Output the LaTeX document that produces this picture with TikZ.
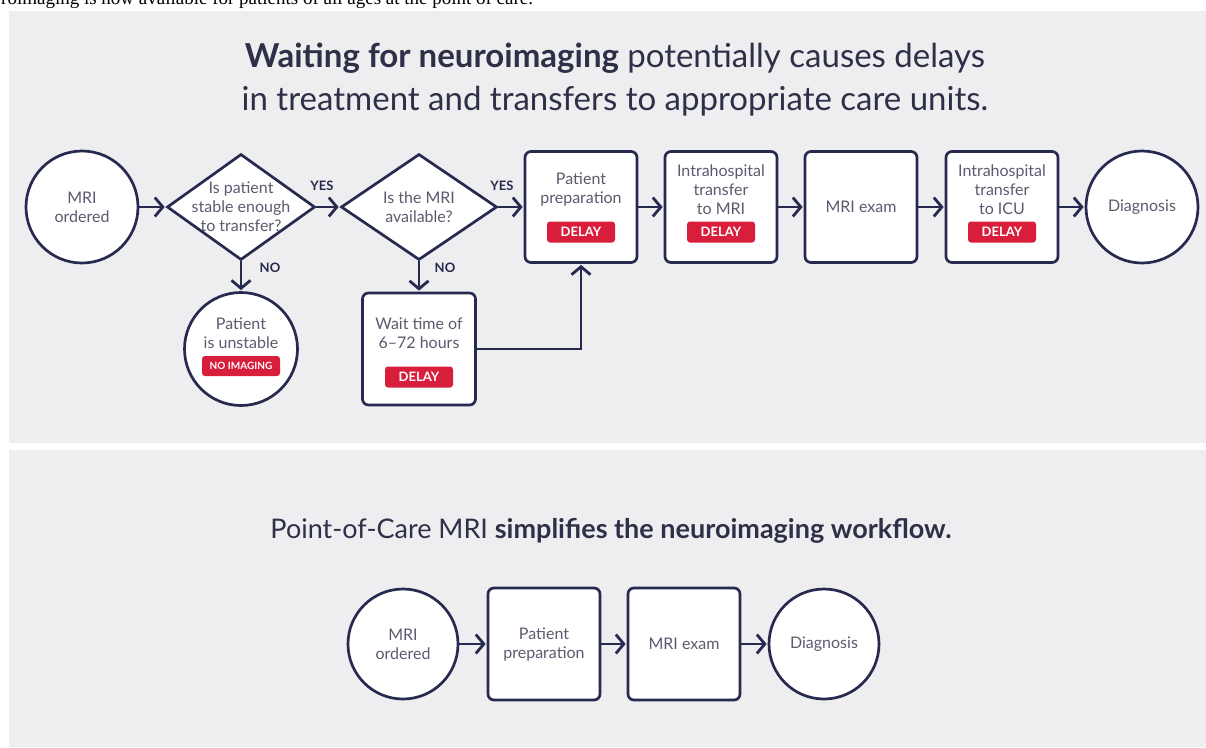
\documentclass[tikz,border=0pt]{standalone}
\usepackage{fontspec}
\setmainfont{Lato}
\newfontfamily\notefont{Liberation Serif}
\usetikzlibrary{shapes.geometric,arrows.meta}
\definecolor{panel}{HTML}{EEEEF1}
\definecolor{navy}{HTML}{262A4E}
\definecolor{bodygrey}{HTML}{5A5C6E}
\definecolor{headtext}{HTML}{2E3048}
\definecolor{alert}{HTML}{D91E3C}
\tikzset{
  flow/.style={draw=navy,line width=2.8pt,-{Straight Barb[length=8pt,width=19pt]},shorten >=1pt},
  stepbox/.style={draw=navy,fill=white,line width=2.7pt,rounded corners=6pt,minimum width=112pt,minimum height=111pt,inner sep=0pt},
  endpoint/.style={circle,draw=navy,fill=white,line width=2.7pt,minimum size=112pt,inner sep=0pt},
  question/.style={diamond,draw=navy,fill=white,line width=2.7pt,aspect=1.4,inner xsep=-30pt,inner ysep=-20pt,minimum height=106pt},
  body/.style={text=bodygrey,align=center,font=\fontsize{16}{19}\selectfont},
  badge/.style={fill=alert,text=white,rounded corners=3pt,font=\bfseries\fontsize{13}{13}\selectfont,minimum width=68pt,minimum height=21pt,inner sep=0pt},
  answer/.style={text=navy,font=\bfseries\fontsize{13}{13}\selectfont},
}
\begin{document}
\begin{tikzpicture}[x=1pt,y=-1pt]
  \useasboundingbox (0,0) rectangle (1206,747);
  \clip (0,0) rectangle (1206,747);
  \fill[white] (0,0) rectangle (1206,747);
  \node[anchor=base west,inner sep=0pt,font=\notefont\fontsize{19}{22}\selectfont] (carenote) at (1,4) {roimaging is now available for patients of all ages at the point of care.};
  \fill[panel] (9,11) rectangle (1206,443);
  \fill[panel] (9,450) rectangle (1206,747);

  % current pathway
  \node[text=headtext,align=center,font=\fontsize{33}{43}\selectfont] (waiting) at (615,80)
    {\textbf{Waiting for neuroimaging} potentially causes delays\\in treatment and transfers to appropriate care units.};
  \node[endpoint,body] (order) at (82,207) {MRI\\ordered};
  \node[question,body,minimum width=148pt] (stable) at (241,207) {Is patient\\stable enough\\to transfer?};
  \node[question,body,minimum width=156pt] (avail) at (419,207) {Is the MRI\\available?};
  \node[stepbox] (prep) at (581,207) {};
  \node[stepbox] (tomri) at (721,207) {};
  \node[stepbox,body] (exam) at (861,207) {MRI exam};
  \node[stepbox] (toicu) at (1002,207) {};
  \node[endpoint,body] (diag) at (1142,207) {Diagnosis};
  \node[body] (preptext) at (581,190) {Patient\\preparation};
  \node[body] (tomritext) at (721,190) {Intrahospital\\transfer\\to MRI};
  \node[body] (toicutext) at (1002,190) {Intrahospital\\transfer\\to ICU};
  \node[badge] (prepdelay) at (581,232) {DELAY};
  \node[badge] (tomridelay) at (721,232) {DELAY};
  \node[badge] (toicudelay) at (1002,232) {DELAY};
  \node[endpoint,minimum size=113pt] (unstable) at (241,349) {};
  \node[stepbox,minimum height=112pt,minimum width=113pt] (wait) at (419,349) {};
  \node[body] (unstabletext) at (241,333) {Patient\\is unstable};
  \node[badge,minimum width=78pt,minimum height=20pt,font=\bfseries\fontsize{10}{10}\selectfont] (noimaging) at (241,366) {NO IMAGING};
  \node[body] (waittext) at (419,333) {Wait time of\\6--72 hours};
  \node[badge] (waitdelay) at (419,377) {DELAY};
  \node[answer] (yesstable) at (322,186) {YES};
  \node[answer] (yesavail) at (502,186) {YES};
  \node[answer] (nostable) at (270,268) {NO};
  \node[answer] (noavail) at (445,268) {NO};
  \draw[flow] (order) -- (stable);
  \draw[flow] (stable) -- (avail);
  \draw[flow] (avail) -- (prep);
  \draw[flow] (prep) -- (tomri);
  \draw[flow] (tomri) -- (exam);
  \draw[flow] (exam) -- (toicu);
  \draw[flow] (toicu) -- (diag);
  \draw[flow] (stable) -- (unstable);
  \draw[flow] (avail) -- (wait);
  \draw[flow] (wait.east) -| (prep.south);

  % point-of-care pathway
  \node[text=headtext,font=\fontsize{27}{30}\selectfont] (pocmri) at (611,531)
    {Point-of-Care MRI \textbf{simplifies the neuroimaging workflow.}};
  \node[endpoint,body,minimum size=110pt] (order2) at (403,644) {MRI\\ordered};
  \node[stepbox,body,minimum height=112pt] (prep2) at (544,644) {Patient\\preparation};
  \node[stepbox,body,minimum height=112pt] (exam2) at (684,644) {MRI exam};
  \node[endpoint,body,minimum size=110pt] (diag2) at (824,644) {Diagnosis};
  \draw[flow] (order2) -- (prep2);
  \draw[flow] (prep2) -- (exam2);
  \draw[flow] (exam2) -- (diag2);
\end{tikzpicture}
\end{document}
